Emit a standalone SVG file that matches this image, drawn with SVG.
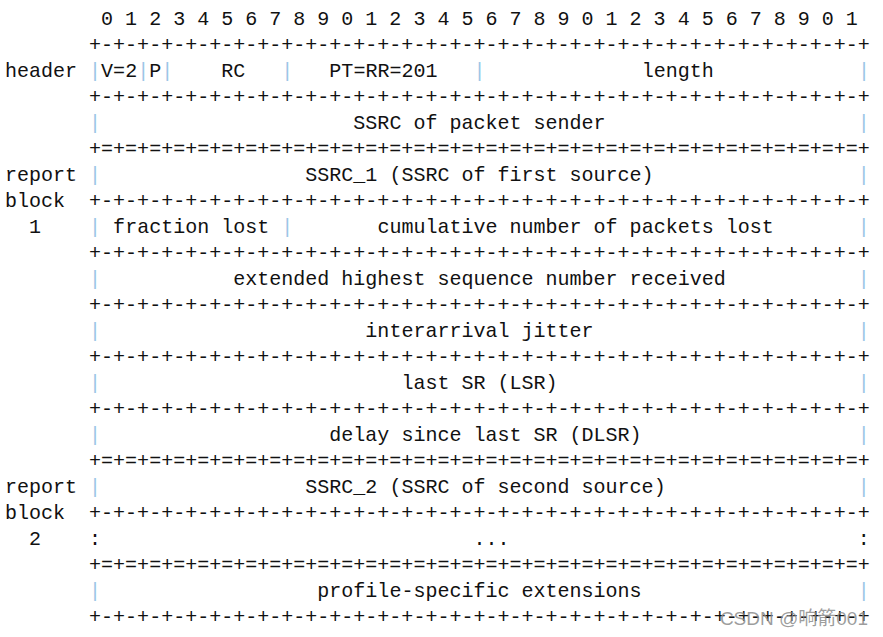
<svg xmlns="http://www.w3.org/2000/svg" width="883" height="637" viewBox="0 0 883 637" xml:space="preserve">
<style>
text.m{font-family:"Liberation Mono","DejaVu Sans Mono",monospace;font-size:20.03px;fill:#111;white-space:pre}
tspan.p{fill:#9cc6e6}
text.wm{font-family:"Liberation Sans","Noto Sans CJK SC",sans-serif;font-size:19px;fill:#8c8c8c;fill-opacity:0.85}
</style>
<rect width="883" height="637" fill="#ffffff"/>
<g id="bits"><text class="m" x="5" y="25">        0 1 2 3 4 5 6 7 8 9 0 1 2 3 4 5 6 7 8 9 0 1 2 3 4 5 6 7 8 9 0 1</text></g>
<g id="header">
<text class="m" x="5" y="51">       +-+-+-+-+-+-+-+-+-+-+-+-+-+-+-+-+-+-+-+-+-+-+-+-+-+-+-+-+-+-+-+-+</text>
<text class="m" x="5" y="77">header <tspan class="p">|</tspan>V=2<tspan class="p">|</tspan>P<tspan class="p">|</tspan>    RC   <tspan class="p">|</tspan>   PT=RR=201   <tspan class="p">|</tspan>             length            <tspan class="p">|</tspan></text>
<text class="m" x="5" y="103">       +-+-+-+-+-+-+-+-+-+-+-+-+-+-+-+-+-+-+-+-+-+-+-+-+-+-+-+-+-+-+-+-+</text>
<text class="m" x="5" y="129">       <tspan class="p">|</tspan>                     SSRC of packet sender                     <tspan class="p">|</tspan></text>
<text class="m" x="5" y="155">       +=+=+=+=+=+=+=+=+=+=+=+=+=+=+=+=+=+=+=+=+=+=+=+=+=+=+=+=+=+=+=+=+</text>
</g>
<g id="block1">
<text class="m" x="5" y="181">report <tspan class="p">|</tspan>                 SSRC_1 (SSRC of first source)                 <tspan class="p">|</tspan></text>
<text class="m" x="5" y="207">block  +-+-+-+-+-+-+-+-+-+-+-+-+-+-+-+-+-+-+-+-+-+-+-+-+-+-+-+-+-+-+-+-+</text>
<text class="m" x="5" y="233">  1    <tspan class="p">|</tspan> fraction lost <tspan class="p">|</tspan>       cumulative number of packets lost       <tspan class="p">|</tspan></text>
<text class="m" x="5" y="259">       +-+-+-+-+-+-+-+-+-+-+-+-+-+-+-+-+-+-+-+-+-+-+-+-+-+-+-+-+-+-+-+-+</text>
<text class="m" x="5" y="285">       <tspan class="p">|</tspan>           extended highest sequence number received           <tspan class="p">|</tspan></text>
<text class="m" x="5" y="311">       +-+-+-+-+-+-+-+-+-+-+-+-+-+-+-+-+-+-+-+-+-+-+-+-+-+-+-+-+-+-+-+-+</text>
<text class="m" x="5" y="337">       <tspan class="p">|</tspan>                      interarrival jitter                      <tspan class="p">|</tspan></text>
<text class="m" x="5" y="363">       +-+-+-+-+-+-+-+-+-+-+-+-+-+-+-+-+-+-+-+-+-+-+-+-+-+-+-+-+-+-+-+-+</text>
<text class="m" x="5" y="389">       <tspan class="p">|</tspan>                         last SR (LSR)                         <tspan class="p">|</tspan></text>
<text class="m" x="5" y="415">       +-+-+-+-+-+-+-+-+-+-+-+-+-+-+-+-+-+-+-+-+-+-+-+-+-+-+-+-+-+-+-+-+</text>
<text class="m" x="5" y="441">       <tspan class="p">|</tspan>                   delay since last SR (DLSR)                  <tspan class="p">|</tspan></text>
<text class="m" x="5" y="467">       +=+=+=+=+=+=+=+=+=+=+=+=+=+=+=+=+=+=+=+=+=+=+=+=+=+=+=+=+=+=+=+=+</text>
</g>
<g id="block2">
<text class="m" x="5" y="493">report <tspan class="p">|</tspan>                 SSRC_2 (SSRC of second source)                <tspan class="p">|</tspan></text>
<text class="m" x="5" y="519">block  +-+-+-+-+-+-+-+-+-+-+-+-+-+-+-+-+-+-+-+-+-+-+-+-+-+-+-+-+-+-+-+-+</text>
<text class="m" x="5" y="545">  2    :                               ...                             :</text>
<text class="m" x="5" y="571">       +=+=+=+=+=+=+=+=+=+=+=+=+=+=+=+=+=+=+=+=+=+=+=+=+=+=+=+=+=+=+=+=+</text>
</g>
<g id="extensions">
<text class="m" x="5" y="597">       <tspan class="p">|</tspan>                  profile-specific extensions                  <tspan class="p">|</tspan></text>
<text class="m" x="5" y="623">       +-+-+-+-+-+-+-+-+-+-+-+-+-+-+-+-+-+-+-+-+-+-+-+-+-+-+-+-+-+-+-+-+</text>
</g>
<text class="wm" x="868" y="625" text-anchor="end">CSDN @响箭001</text>
</svg>
